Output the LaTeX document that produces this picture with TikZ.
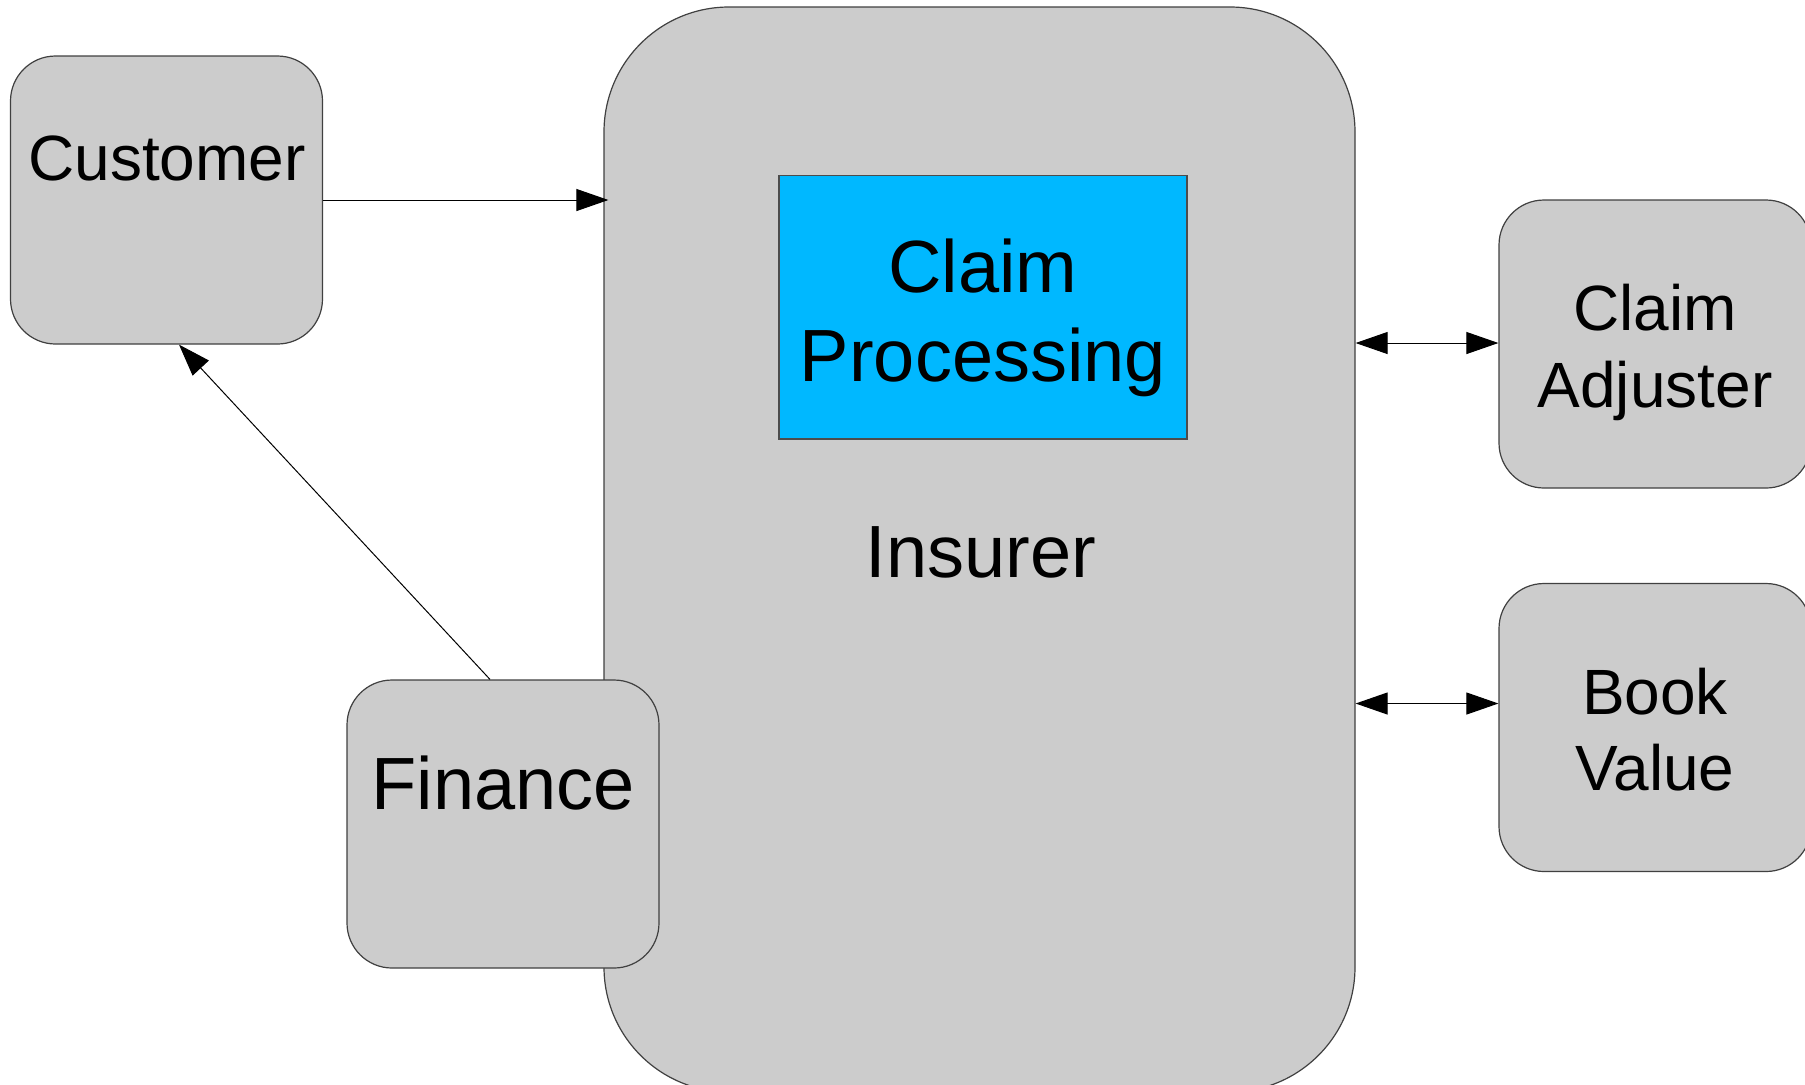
\documentclass[tikz,border=0pt]{standalone}
\usepackage{fontspec}
\setmainfont{Liberation Sans}
\usetikzlibrary{arrows.meta,calc}
\definecolor{panelgray}{HTML}{CCCCCC}
\definecolor{procblue}{HTML}{00B8FF}
\begin{document}
\begin{tikzpicture}[x=0.5pt,y=-0.5pt,
  party/.style={draw=black!75, line width=0.6pt, fill=panelgray, rounded corners=22.5pt,
    minimum width=156pt, minimum height=144pt, inner sep=0pt},
  hub/.style={draw=black!75, line width=0.6pt, fill=panelgray, rounded corners=62.5pt,
    minimum width=375.5pt, minimum height=542.5pt, inner sep=0pt},
  process/.style={draw=black!70, line width=0.6pt, fill=procblue,
    minimum width=204pt, minimum height=131.65pt, inner sep=0pt},
  bigtxt/.style={font=\fontsize{37}{44}\selectfont, anchor=base, inner sep=0pt},
  smalltxt/.style={font=\fontsize{32}{38}\selectfont, anchor=base, inner sep=0pt},
  flow/.style={line width=0.5pt, -{Triangle[length=16pt,width=11pt]}},
  link/.style={line width=0.5pt, {Triangle[length=16pt,width=11pt]}-{Triangle[length=16pt,width=11pt]}},
]
\clip (0,0) rectangle (1805,1084);

% central insurer with its claim processing unit
\node[hub] (insurer) at (979.5,549.5) {};
\node[process] (claimproc) at (983,307.35) {};
\node[bigtxt] (claimproc-1) at (983,292.7) {Claim};
\node[bigtxt] (claimproc-2) at (983,381) {Processing};
\node[bigtxt] (insurer-txt) at (981,577.7) {Insurer};

% surrounding parties
\node[party] (customer) at (166.5,200) {};
\node[smalltxt] (customer-txt) at (167,180) {Customer};

\node[party] (finance) at (503,824) {};
\node[bigtxt] (finance-txt) at (503,809) {Finance};

\node[party] (adjuster) at (1655,344) {};
\node[smalltxt] (adjuster-1) at (1655,330) {Claim};
\node[smalltxt] (adjuster-2) at (1655,407) {Adjuster};

\node[party] (book) at (1655,727.5) {};
\node[smalltxt] (book-1) at (1655,714) {Book};
\node[smalltxt] (book-2) at (1655,790) {Value};

% connectors
\coordinate (cust-in) at ($(customer.east -| insurer.west)+(5,0)$);
\draw[flow] (customer.east) -- (cust-in);
\draw[flow] ($(finance.north)+(-13,0)$) -- ($(customer.south)+(12.5,0)$);
\coordinate (adj-in) at ($(adjuster.west)+(0,-1)$);
\draw[link] (adj-in -| insurer.east) -- (adj-in);
\coordinate (book-in) at ($(book.west)+(0,-24)$);
\draw[link] (book-in -| insurer.east) -- (book-in);
\end{tikzpicture}
\end{document}
